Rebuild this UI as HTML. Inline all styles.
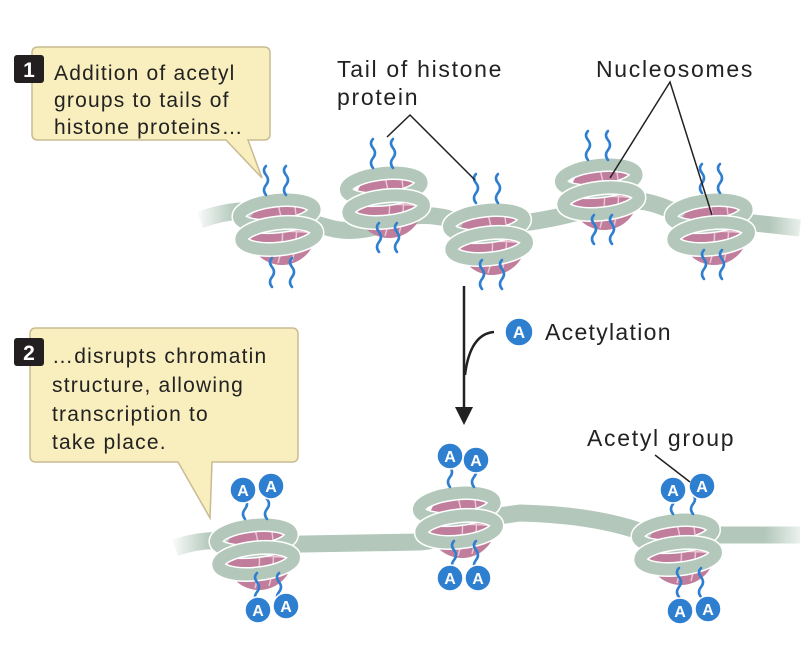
<!DOCTYPE html>
<html><head><meta charset="utf-8"><style>
html,body{margin:0;padding:0;background:#fff;}
svg{display:block;font-family:"Liberation Sans",sans-serif;}
</style></head><body>
<svg width="812" height="646" viewBox="0 0 812 646" xmlns="http://www.w3.org/2000/svg">
<defs>
<g id="nuc">
<circle cx="4" cy="6" r="34" fill="#c07d9c"/>
<path d="M-28 0 Q4 -6 36 -2 M-30 10 Q4 4 36 8 M-2 -26 Q10 6 0 38 M16 -24 Q22 8 14 36" stroke="#e8c6d4" stroke-width="1.5" fill="none"/>
<g transform="rotate(-6)">
<ellipse cx="0" cy="-12" rx="38" ry="13" fill="none" stroke="#fff" stroke-width="15"/>
<ellipse cx="0" cy="-12" rx="38" ry="13" fill="none" stroke="#b3c8bb" stroke-width="12"/>
<ellipse cx="0" cy="11" rx="38" ry="13" fill="none" stroke="#fff" stroke-width="15"/>
<ellipse cx="0" cy="11" rx="38" ry="13" fill="none" stroke="#b3c8bb" stroke-width="12"/>
</g>
</g>
<path id="tail" d="M0 0 q-4 -5 0 -10 q4 -5 0 -10 q-4 -5 0 -9" fill="none" stroke="#2f7fd0" stroke-width="2.6" stroke-linecap="round"/>
<linearGradient id="fr" x1="0" x2="1"><stop offset="0" stop-color="#fff" stop-opacity="0"/><stop offset="1" stop-color="#fff"/></linearGradient>
<linearGradient id="fl" x1="0" x2="1"><stop offset="0" stop-color="#fff"/><stop offset="1" stop-color="#fff" stop-opacity="0"/></linearGradient>
</defs>

<path d="M200 220 Q240 205 280 214 L330 228 Q360 236 400 218 Q440 210 470 228 L530 222 Q570 216 600 205 Q640 192 680 215 L800 228" fill="none" stroke="#b3c8bb" stroke-width="17"/>
<rect x="195" y="195" width="40" height="40" fill="url(#fl)"/>
<rect x="770" y="205" width="42" height="40" fill="url(#fr)"/>
<path d="M175 548 Q210 535 250 545 L420 542 Q450 540 470 520 L520 513 Q600 515 650 535 L800 535" fill="none" stroke="#b3c8bb" stroke-width="17"/>
<rect x="170" y="525" width="40" height="40" fill="url(#fl)"/>
<rect x="765" y="515" width="47" height="40" fill="url(#fr)"/>

<g transform="translate(278,225)"><use href="#nuc"/><use href="#tail" x="-12" y="-30"/><use href="#tail" x="8" y="-30"/><use href="#tail" x="-6" y="62"/><use href="#tail" x="14" y="62"/></g>
<g transform="translate(385,198)"><use href="#nuc"/><use href="#tail" x="-12" y="-30"/><use href="#tail" x="8" y="-30"/><use href="#tail" x="-6" y="54"/><use href="#tail" x="12" y="54"/></g>
<g transform="translate(488,235)"><use href="#nuc"/><use href="#tail" x="-12" y="-32"/><use href="#tail" x="10" y="-32"/><use href="#tail" x="-6" y="54"/><use href="#tail" x="14" y="54"/></g>
<g transform="translate(600,190)"><use href="#nuc"/><use href="#tail" x="-12" y="-30"/><use href="#tail" x="8" y="-30"/><use href="#tail" x="-6" y="54"/><use href="#tail" x="12" y="54"/></g>
<g transform="translate(710,225)"><use href="#nuc"/><use href="#tail" x="-8" y="-32"/><use href="#tail" x="10" y="-32"/><use href="#tail" x="-6" y="54"/><use href="#tail" x="12" y="54"/></g>

<g transform="translate(255,550)"><use href="#nuc"/><use href="#tail" x="-10" y="-31"/><use href="#tail" x="12" y="-31"/><use href="#tail" x="2" y="52"/><use href="#tail" x="24" y="52"/></g>
<g transform="translate(458,518)"><use href="#nuc"/><use href="#tail" x="-8" y="-31"/><use href="#tail" x="16" y="-31"/><use href="#tail" x="-4" y="52"/><use href="#tail" x="18" y="52"/></g>
<g transform="translate(677,545)"><use href="#nuc"/><use href="#tail" x="-4" y="-31"/><use href="#tail" x="16" y="-31"/><use href="#tail" x="2" y="52"/><use href="#tail" x="24" y="52"/></g>

<g fill="#2f7fd0" stroke="#fff" stroke-width="1.5">
<circle cx="243" cy="490" r="13"/><circle cx="271" cy="486" r="13"/><circle cx="258" cy="610" r="13"/><circle cx="286" cy="606" r="13"/>
<circle cx="450" cy="456" r="13"/><circle cx="476" cy="460" r="13"/><circle cx="450" cy="578" r="13"/><circle cx="478" cy="578" r="13"/>
<circle cx="673" cy="490" r="13"/><circle cx="702" cy="486" r="13"/><circle cx="680" cy="611" r="13"/><circle cx="708" cy="609" r="13"/>
<circle cx="519" cy="332" r="14"/>
</g>
<g fill="#fff" font-size="16" font-weight="bold" text-anchor="middle">
<text x="243" y="496">A</text><text x="271" y="492">A</text><text x="258" y="616">A</text><text x="286" y="612">A</text>
<text x="450" y="462">A</text><text x="476" y="466">A</text><text x="450" y="584">A</text><text x="478" y="584">A</text>
<text x="673" y="496">A</text><text x="702" y="492">A</text><text x="680" y="617">A</text><text x="708" y="615">A</text>
<text x="519" y="338" font-size="17">A</text>
</g>

<line x1="464" y1="286" x2="464" y2="410" stroke="#222" stroke-width="2.5"/>
<path d="M455 407 L473 407 L464 425 Z" fill="#222"/>
<path d="M494 332 Q470 334 465 375" fill="none" stroke="#222" stroke-width="2.5"/>
<text x="545" y="340" font-size="23" letter-spacing="1.3" fill="#222">Acetylation</text>

<g fill="#222" font-size="23" letter-spacing="1.7">
<text x="337" y="77">Tail of histone</text><text x="337" y="105">protein</text>
<text x="596" y="77">Nucleosomes</text>
<text x="587" y="446">Acetyl group</text>
</g>
<g stroke="#222" stroke-width="1.5" fill="none">
<path d="M387 137 L410 115 L475 180"/>
<path d="M610 178 L670 82 L712 215"/>
<path d="M655 455 L690 482"/>
</g>

<path d="M38 47 H264 Q270 47 270 53 V134 Q270 140 264 140 H248 L262 178 L226 140 H38 Q32 140 32 134 V53 Q32 47 38 47 Z" fill="#f9eebd" stroke="#c8bb92" stroke-width="1.5"/>
<path d="M36 328 H292 Q298 328 298 334 V456 Q298 462 292 462 H212 L210 518 L178 462 H36 Q30 462 30 456 V334 Q30 328 36 328 Z" fill="#f9eebd" stroke="#c8bb92" stroke-width="1.5"/>
<rect x="14" y="55" width="30" height="28" rx="3" fill="#231f20"/>
<rect x="14" y="338" width="30" height="28" rx="3" fill="#231f20"/>
<g font-size="21" font-weight="bold" fill="#fff" text-anchor="middle"><text x="29" y="77">1</text><text x="29" y="360">2</text></g>
<g fill="#222" font-size="21" letter-spacing="1.2">
<text x="54" y="80">Addition of acetyl</text><text x="54" y="107">groups to tails of</text><text x="54" y="134">histone proteins…</text>
<text x="52" y="363">…disrupts chromatin</text><text x="52" y="392">structure, allowing</text><text x="52" y="421">transcription to</text><text x="52" y="449">take place.</text>
</g>
</svg>
</body></html>
